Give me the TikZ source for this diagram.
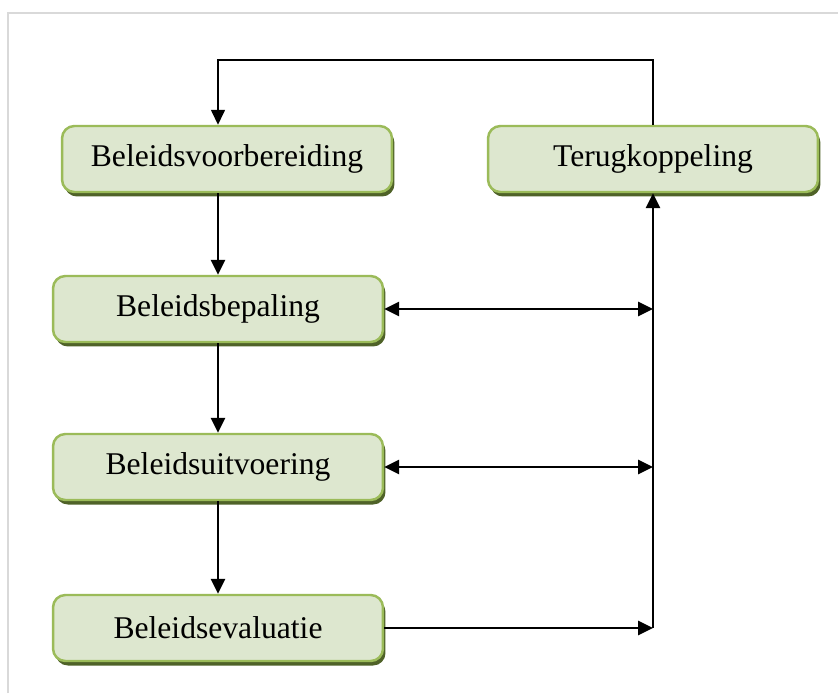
\documentclass[tikz,border=0pt]{standalone}
\usepackage{fontspec}
\setmainfont{Liberation Serif}
\usepackage{tikz}
\usetikzlibrary{positioning,arrows.meta,shadows,calc}
\definecolor{boxfill}{RGB}{221,231,207}
\definecolor{boxline}{RGB}{155,187,89}
\definecolor{boxshade}{RGB}{79,98,40}
\definecolor{framegray}{RGB}{217,217,217}

\tikzset{
  stage/.style={draw=boxline, line width=1.4pt, fill=boxfill, rounded corners=7pt,
    minimum width=6.6cm, minimum height=1.32cm, inner sep=0pt,
    font=\fontsize{18}{21}\selectfont,
    drop shadow={shadow xshift=0.05cm, shadow yshift=-0.09cm, fill=boxshade, opacity=1}},
  flow/.style={-{Triangle[length=0.3cm,width=0.28cm]}, line width=1.6pt},
  both/.style={{Triangle[length=0.3cm,width=0.28cm]}-{Triangle[length=0.3cm,width=0.28cm]}, line width=1.6pt},
  back/.style={-{Triangle[length=0.3cm,width=0.28cm]}, line width=0.9pt}
}

\begin{document}
\begin{tikzpicture}[x=0.02cm, y=-0.02cm]
\useasboundingbox (0,0) rectangle (838,693);
\draw[framegray, line width=1.2pt] (8,693) -- (8,13) -- (838,13);

\node[stage] (bvb) at (227,159) {Beleidsvoorbereiding};
\node[stage] (terug) at (653,159) {Terugkoppeling};
\node[stage] (bep) at (218,309) {Beleidsbepaling};
\node[stage] (uit) at (218,467) {Beleidsuitvoering};
\node[stage] (eval) at (218,628) {Beleidsevaluatie};

\coordinate (top) at (430,60);
\coordinate (bus) at (eval.east -| terug.south);

% main chain
\draw[flow] (bvb.south -| bep.north) -- (bep.north);
\draw[flow] (bep) -- (uit);
\draw[flow] (uit) -- (eval);

% feedback
\draw[flow] (eval.east) -- (bus);
\draw[flow] (bus) -- (terug.south);
\draw[both] (bep.east) -- (bep.east -| bus);
\draw[both] (uit.east) -- (uit.east -| bus);
\draw[back] (terug.north) |- (top) -| (bvb.north -| bep.north);
\end{tikzpicture}
\end{document}
